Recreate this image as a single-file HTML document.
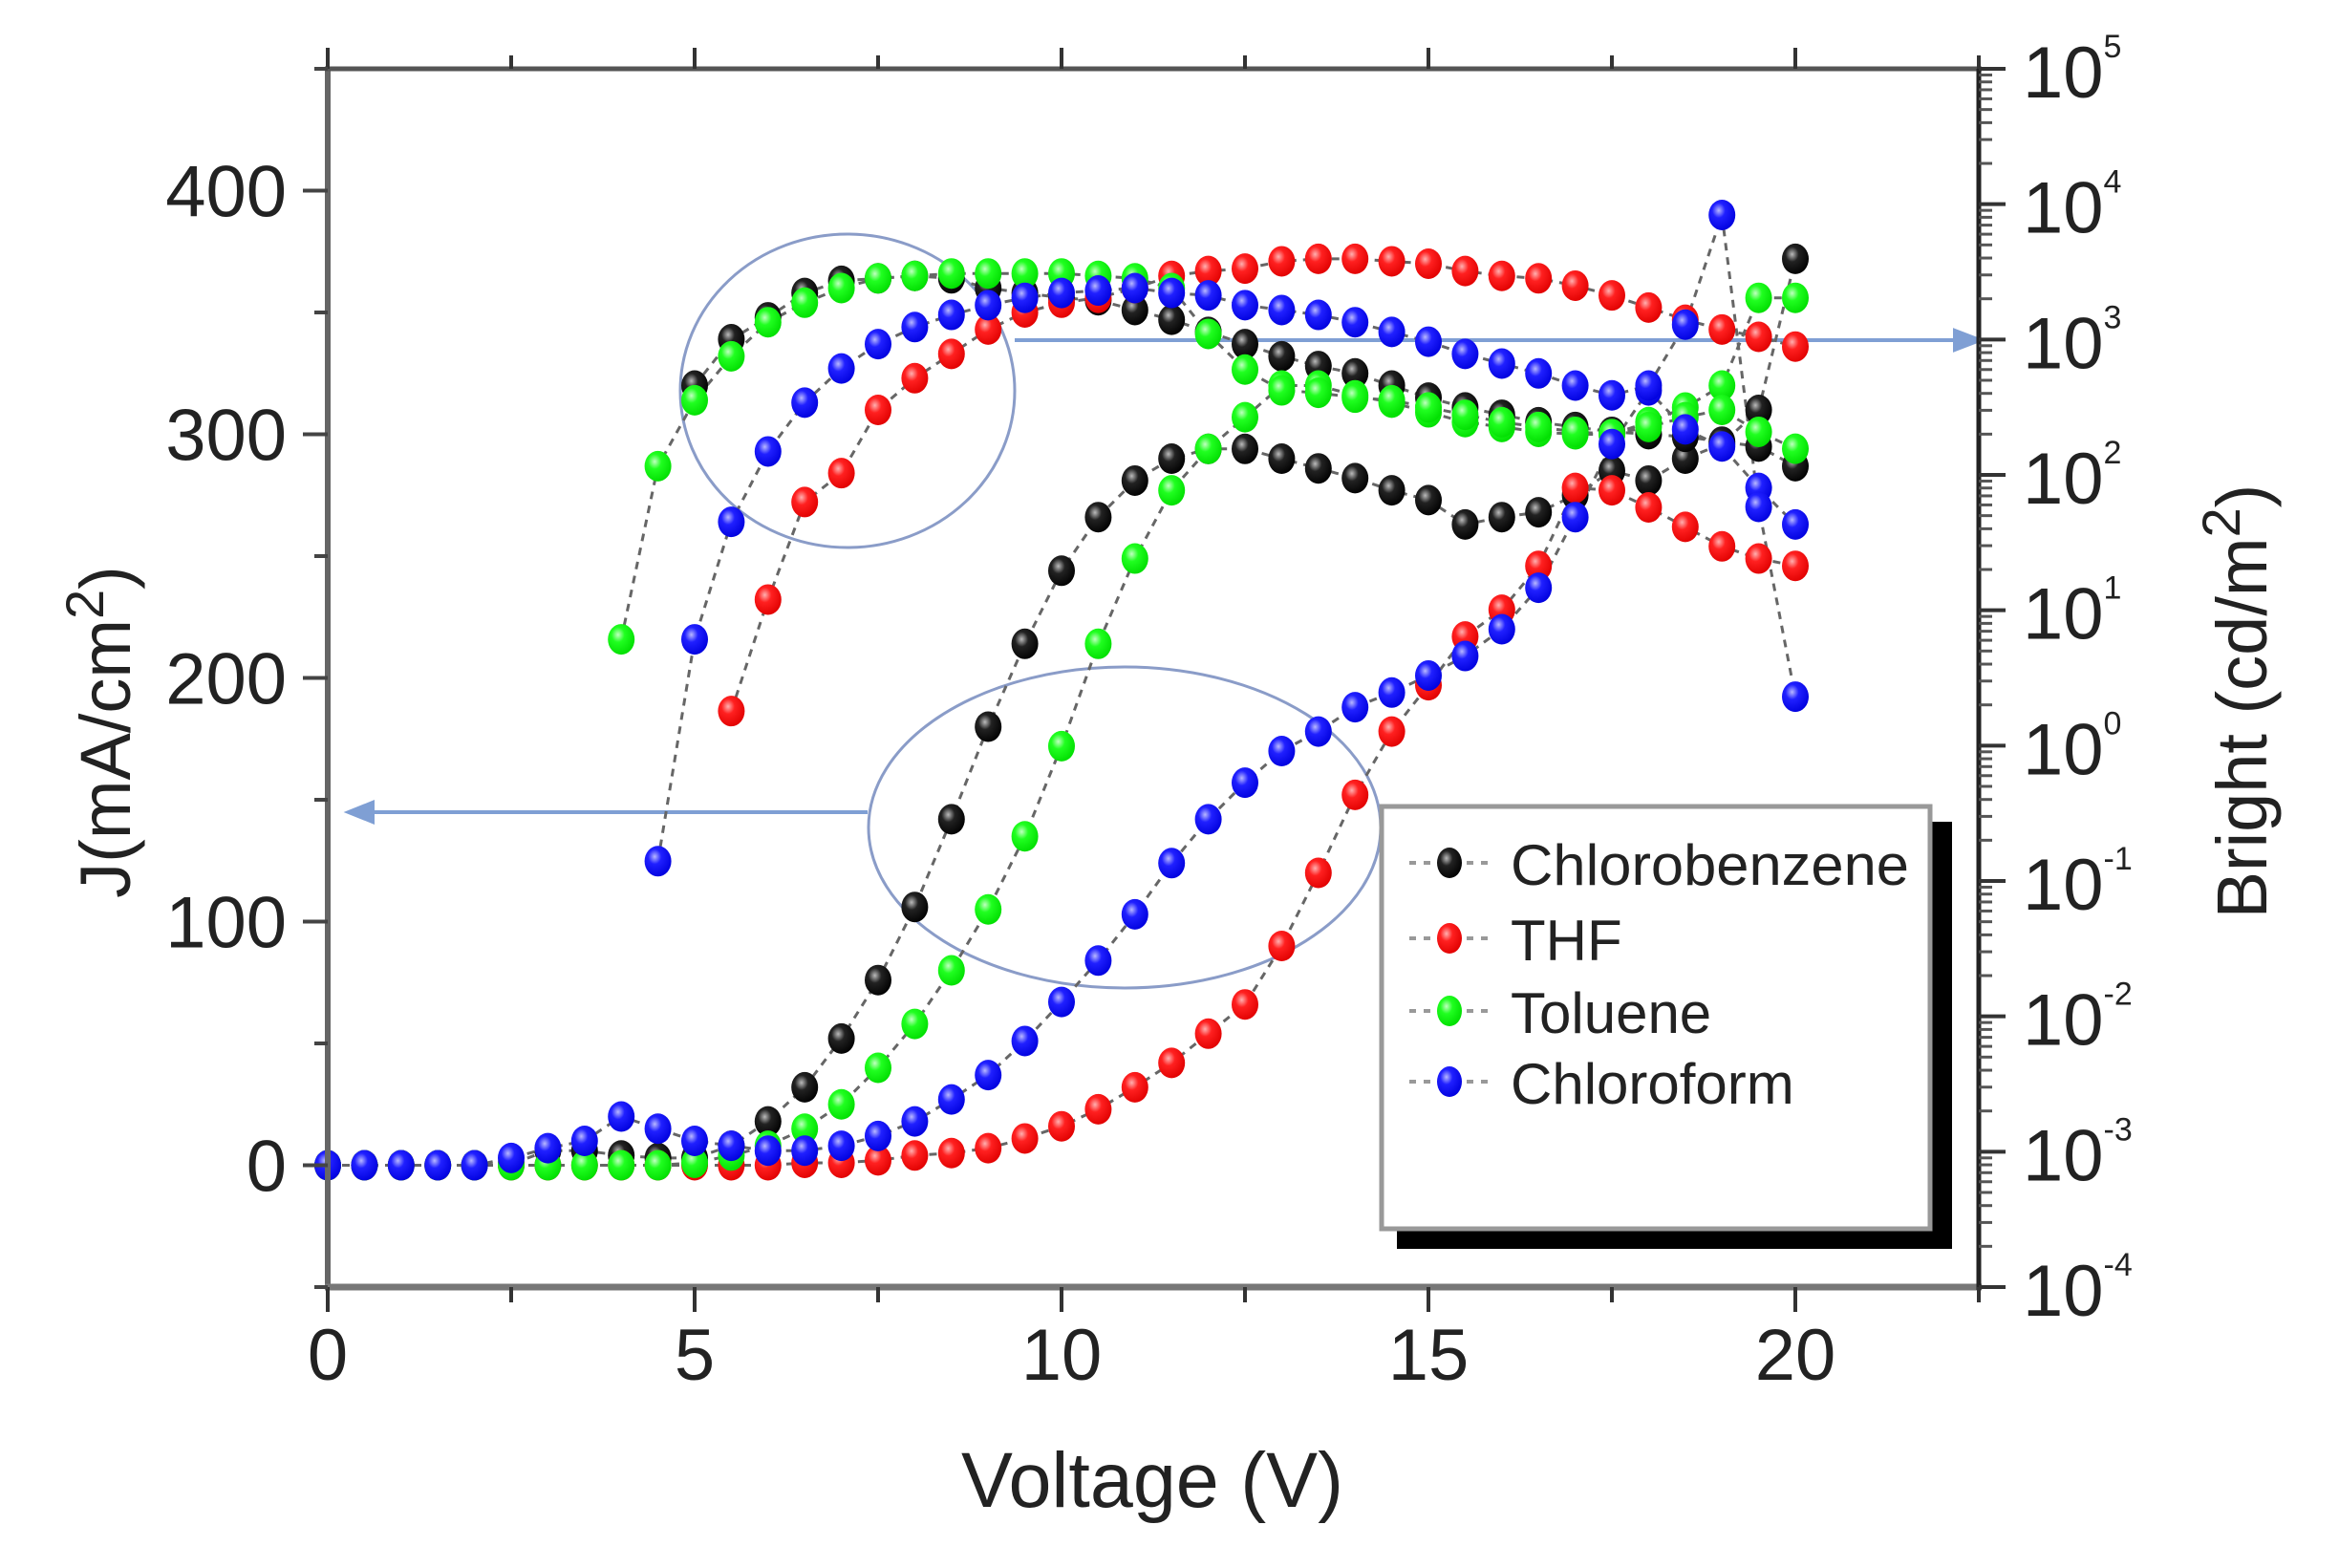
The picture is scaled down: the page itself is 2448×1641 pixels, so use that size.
<!DOCTYPE html>
<html><head><meta charset="utf-8"><style>
html,body{margin:0;padding:0;background:#fff}
svg{display:block;font-family:"Liberation Sans",Arial,sans-serif}
</style></head><body>
<svg id="chart" width="2448" height="1641" viewBox="0 0 2448 1641">
<defs>
<radialGradient id="gk" cx="0.38" cy="0.35" r="0.7"><stop offset="0" stop-color="#bbb"/><stop offset="0.35" stop-color="#222"/><stop offset="1" stop-color="#000"/></radialGradient>
<radialGradient id="gr" cx="0.38" cy="0.35" r="0.7"><stop offset="0" stop-color="#ffb0b0"/><stop offset="0.35" stop-color="#ff2020"/><stop offset="1" stop-color="#e00000"/></radialGradient>
<radialGradient id="gg" cx="0.38" cy="0.35" r="0.7"><stop offset="0" stop-color="#c0ffc0"/><stop offset="0.35" stop-color="#20ff20"/><stop offset="1" stop-color="#00dd00"/></radialGradient>
<radialGradient id="gb" cx="0.38" cy="0.35" r="0.7"><stop offset="0" stop-color="#b8b8ff"/><stop offset="0.35" stop-color="#2020ff"/><stop offset="1" stop-color="#0000dd"/></radialGradient>
</defs>
<g id="plot"></g>
<g id="axes"></g>
<g id="legend">
  <rect x="1462" y="1286" width="581" height="21" fill="#000"/>
  <rect x="2020" y="860" width="23" height="447" fill="#000"/>
  <rect x="1446" y="844" width="574" height="442" fill="#fff" stroke="#999" stroke-width="5"/>
</g>
<text x="1206" y="1577" font-size="82" text-anchor="middle" textLength="400" lengthAdjust="spacingAndGlyphs" fill="#222">Voltage (V)</text>
<text transform="translate(136,766) rotate(-90)" font-size="74" text-anchor="middle" fill="#222">J(mA/cm<tspan font-size="56" dy="-28">2</tspan><tspan dy="28">)</tspan></text>
<text transform="translate(2372,734) rotate(-90)" font-size="74" text-anchor="middle" fill="#222">Bright (cd/m<tspan font-size="56" dy="-28">2</tspan><tspan dy="28">)</tspan></text>
</svg>
<script>
const xVals=[0,0.5,1,1.5,2,2.5,3,3.5,4,4.5,5,5.5,6,6.5,7,7.5,8,8.5,9,9.5,10,10.5,11,11.5,12,12.5,13,13.5,14,14.5,15,15.5,16,16.5,17,17.5,18,18.5,19,19.5,20];
const seriesNames=["Chlorobenzene","THF","Toluene","Chloroform"];
const jChloroBenzene=[0,0,0,0,0,0.5,6,6,4,3,3,8,18,32,52,76,106,142,180,214,244,266,281,290,294,294,290,286,282,277,273,263,266,268,275,285,281,290,296,310,372];
const jTHF=[0,0,0,0,0,0,0,0,0,0,0,0,0,1,1,2,4,5,7,11,16,23,32,42,54,66,90,120,152,178,197,217,228,246,278,277,270,262,254,249,246];
const jToluene=[0,0,0,0,0,0,0,0,0,0,1,4,8,15,25,40,58,80,105,135,172,214,249,277,294,307,320,320,316,313,309,305,303,301,300,300,305,311,320,356,356];
const jChloroform=[0,0,0,0,0,3,7,10,20,15,10,8,6,6,8,12,18,27,37,51,67,84,103,124,142,157,170,178,188,194,201,209,220,237,266,296,318,302,295,278,263];
const bStart=[5,5.5,4,4.5];
const bChloroBenzene=[457,1005,1459,2208,2716,2831,2951,2831,2399,2208,2032,1950,1652,1400,1138,925,752,637,562,457,372,315,278,245,226,208,200,191,176,162,116];
const bTHF=[1.8,12,63,103,302,518,783,1186,1585,1871,2032,2399,2951,3206,3342,3784,3945,3945,3784,3631,3206,2951,2831,2500,2118,1722,1400,1186,1047,887];
const bToluene=[6.1,116,356,752,1343,1871,2399,2831,2951,3076,3076,3076,3076,2951,2831,2400,1100,600,421,404,372,356,315,278,245,226,208,200,226,267,302,208,156];
const bChloroform=[0.14,6.1,45,149,342,611,925,1236,1521,1795,2032,2208,2301,2399,2208,2118,1795,1652,1521,1343,1138,964,783,664,562,457,387,457,1288,8318,58,2.3];
const xTicks=[0,5,10,15,20];
const yTicks=[0,100,200,300,400];
const logTicks=[-4,-3,-2,-1,0,1,2,3,4,5];

const X0=343,X1=2071,Y0=1347,Y1=72;
const XMAX=22.5,YMIN=-50,YMAX=450;
function xs(v){return X0+(v/XMAX)*(X1-X0);}
function ys(v){return Y0-(v-YMIN)/(YMAX-YMIN)*(Y0-Y1);}
function yl(b){return Y0-(Math.log10(b)+4)/9*(Y0-Y1);}
const NS="http://www.w3.org/2000/svg";
function mk(tag,attrs,parent){const e=document.createElementNS(NS,tag);for(const k in attrs)e.setAttribute(k,attrs[k]);parent.appendChild(e);return e;}
const plot=document.getElementById('plot'),axes=document.getElementById('axes'),legend=document.getElementById('legend');
const fills=["url(#gk)","url(#gr)","url(#gg)","url(#gb)"];
const jData=[jChloroBenzene,jTHF,jToluene,jChloroform];
const bData=[bChloroBenzene,bTHF,bToluene,bChloroform];

let el=mk('ellipse',{cx:887,cy:409,rx:175,ry:164,fill:'none',stroke:'#8a9cc8','stroke-width':3},plot);


el=mk('ellipse',{cx:1177,cy:866,rx:268,ry:168,fill:'none',stroke:'#8a9cc8','stroke-width':3},plot);


el=mk('path',{d:'M1062 356 L2055 356 M2072 356 L2046 346 L2046 366 Z',stroke:'#7f9fd4','stroke-width':4,fill:'#7f9fd4'},plot);


el=mk('path',{d:'M908 850 L380 850 M365 850 L390 840 L390 860 Z',stroke:'#7f9fd4','stroke-width':4,fill:'#7f9fd4'},plot);



for(let s=0;s<4;s++){
  const jp=jData[s].map((v,i)=>[xs(xVals[i]),ys(v)]);
  const bp=bData[s].map((v,i)=>[xs(bStart[s]+i*0.5),yl(v)]);
  [[jp,'j'],[bp,'b']].forEach(([pts,kind])=>{
    const ln=mk('polyline',{points:pts.map(p=>p.join(',')).join(' '),fill:'none',stroke:'#666','stroke-width':3,'stroke-dasharray':'8,7'},plot);
    
    
  });
}
for(let s=0;s<4;s++){
  const jp=jData[s].map((v,i)=>[xs(xVals[i]),ys(v)]);
  const bp=bData[s].map((v,i)=>[xs(bStart[s]+i*0.5),yl(v)]);
  [[jp,'j'],[bp,'b']].forEach(([pts,kind])=>{
    pts.forEach(p=>{
      const c=mk('ellipse',{cx:p[0],cy:p[1],rx:14,ry:16,fill:fills[s]},plot);
      
      
    });
  });
}

el=mk('line',{x1:X0,y1:Y1,x2:X0,y2:Y0+3,stroke:'#666','stroke-width':6},axes);


el=mk('line',{x1:X0-3,y1:Y0,x2:X1+3,y2:Y0,stroke:'#777','stroke-width':7},axes);


el=mk('line',{x1:X0-3,y1:Y1,x2:X1+3,y2:Y1,stroke:'#555','stroke-width':5},axes);


el=mk('line',{x1:X1,y1:Y1,x2:X1,y2:Y0+3,stroke:'#222','stroke-width':5},axes);



for(let v=0;v<=22.5;v+=2.5){
  const major=(v%5===0);
  const t=mk('line',{x1:xs(v),y1:Y0,x2:xs(v),y2:Y0+(major?26:16),stroke:'#333','stroke-width':4},axes);
  
  
  const t2=mk('line',{x1:xs(v),y1:Y1,x2:xs(v),y2:Y1-(major?22:14),stroke:'#333','stroke-width':4},axes);
  
  
}
xTicks.forEach(v=>{
  const t=mk('text',{x:xs(v),y:1444,'font-size':76,'text-anchor':'middle',fill:'#222'},axes);
  t.textContent=String(v);
  
  
});
for(let v=-50;v<=450;v+=50){
  const major=(v%100===0);
  const t=mk('line',{x1:X0,y1:ys(v),x2:X0-(major?26:14),y2:ys(v),stroke:'#444','stroke-width':4},axes);
  
  
}
yTicks.forEach(v=>{
  const t=mk('text',{x:300,y:ys(v)+27,'font-size':76,'text-anchor':'end',fill:'#222'},axes);
  t.textContent=String(v);
  
  
});
logTicks.forEach(e=>{
  const y=yl(Math.pow(10,e));
  const t=mk('line',{x1:X1,y1:y,x2:X1+28,y2:y,stroke:'#333','stroke-width':4},axes);
  
  
  if(e<5){for(let m=2;m<=9;m++){
    const ym=yl(m*Math.pow(10,e));
    const mt=mk('line',{x1:X1,y1:ym,x2:X1+14,y2:ym,stroke:'#555','stroke-width':3},axes);
    
    
  }}
  const lb=mk('text',{x:2117,y:y+30,'font-size':76,fill:'#222'},axes);
  
  
  lb.textContent='10';
  const sp=mk('tspan',{'font-size':34,dy:-42},lb);
  sp.textContent=String(e);
});

const legY=[903,982,1058,1132];
seriesNames.forEach((n,i)=>{
  const g=mk('g',{},legend);
  
  
  mk('line',{x1:1475,y1:legY[i],x2:1565,y2:legY[i],stroke:'#999','stroke-width':4,'stroke-dasharray':'7,8'},g);
  mk('ellipse',{cx:1517,cy:legY[i],rx:13,ry:16,fill:fills[i]},g);
  const attrs={x:1581,y:legY[i]+23,'font-size':60,fill:'#222'};
  if(i===0){attrs.textLength=417;attrs.lengthAdjust='spacingAndGlyphs';}
  const t=mk('text',attrs,g);
  t.textContent=n;
});
</script>
</body></html>
